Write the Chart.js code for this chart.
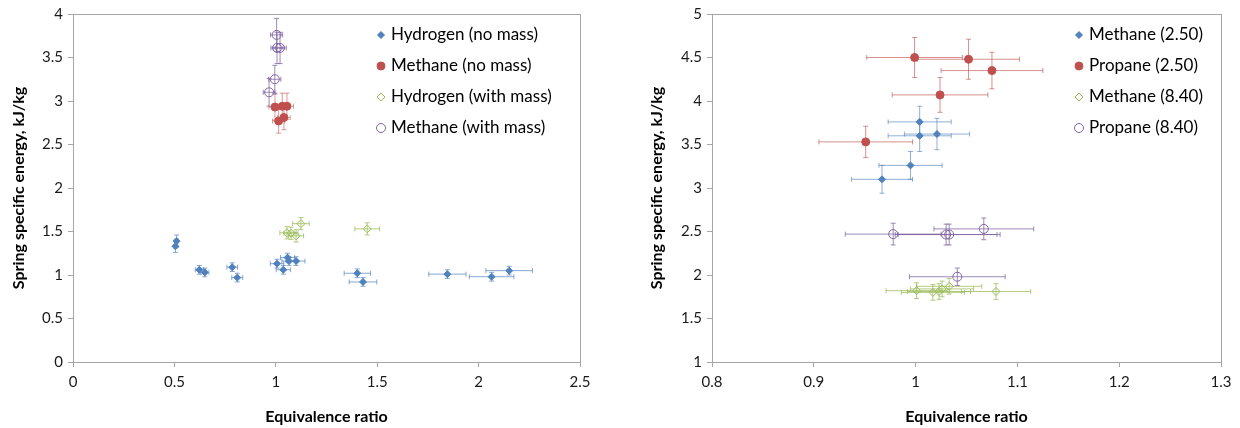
<!DOCTYPE html>
<html>
<head>
<meta charset="utf-8">
<script src="https://cdn.jsdelivr.net/npm/chart.js@4.4.0/dist/chart.umd.min.js"></script>
<style>
  html, body { margin: 0; padding: 0; background: #fff; }
  #wrap { position: relative; width: 1240px; height: 428px; }
  .box { position: absolute; top: 0; width: 620px; height: 428px; }
</style>
</head>
<body>
<div id="wrap">
  <div class="box" style="left:0"><canvas id="leftChart" width="620" height="428"></canvas></div>
  <div class="box" style="left:620px"><canvas id="rightChart" width="620" height="428"></canvas></div>
</div>
<script>
// ---- left chart data ----
const h2NoMassX = [0.505, 0.511, 0.623, 0.650, 0.785, 0.810, 1.006, 1.037, 1.058, 1.065, 1.100, 1.402, 1.430, 1.846, 2.064, 2.151];
const h2NoMassY = [1.33, 1.39, 1.06, 1.03, 1.09, 0.97, 1.13, 1.06, 1.20, 1.16, 1.16, 1.02, 0.92, 1.01, 0.98, 1.05];
const h2NoMassXErr = [0.008, 0.008, 0.02, 0.02, 0.026, 0.027, 0.033, 0.035, 0.035, 0.035, 0.044, 0.065, 0.068, 0.092, 0.11, 0.115];
const h2NoMassYErr = [0.07, 0.07, 0.05, 0.05, 0.05, 0.05, 0.05, 0.05, 0.05, 0.05, 0.05, 0.05, 0.05, 0.05, 0.05, 0.05];

const ch4NoMassX = [0.996, 1.032, 1.055, 1.014, 1.040];
const ch4NoMassY = [2.93, 2.94, 2.94, 2.77, 2.81];
const ch4NoMassXErr = [0.03, 0.031, 0.032, 0.03, 0.031];
const ch4NoMassYErr = [0.15, 0.15, 0.15, 0.14, 0.14];

const h2MassX = [1.055, 1.075, 1.100, 1.124, 1.451];
const h2MassY = [1.485, 1.48, 1.45, 1.59, 1.53];
const h2MassXErr = [0.035, 0.035, 0.037, 0.041, 0.061];
const h2MassYErr = [0.07, 0.07, 0.07, 0.07, 0.07];

const ch4MassX = [1.004, 1.006, 1.021, 0.995, 0.967];
const ch4MassY = [3.76, 3.61, 3.61, 3.25, 3.10];
const ch4MassXErr = [0.03, 0.03, 0.031, 0.03, 0.029];
const ch4MassYErr = [0.19, 0.18, 0.18, 0.16, 0.16];

// ---- right chart data ----
const ch4LowX = [1.004, 1.004, 1.021, 0.995, 0.967];
const ch4LowY = [3.76, 3.60, 3.62, 3.26, 3.10];
const ch4LowXErr = [0.031, 0.031, 0.032, 0.031, 0.030];
const ch4LowYErr = [0.18, 0.18, 0.18, 0.16, 0.16];

const c3LowX = [0.999, 1.052, 1.075, 1.024, 0.951];
const c3LowY = [4.50, 4.48, 4.35, 4.07, 3.53];
const c3LowXErr = [0.047, 0.05, 0.05, 0.047, 0.046];
const c3LowYErr = [0.23, 0.23, 0.21, 0.20, 0.18];

const ch4HighX = [1.001, 1.017, 1.023, 1.026, 1.033, 1.079];
const ch4HighY = [1.82, 1.80, 1.81, 1.84, 1.87, 1.81];
const ch4HighXErr = [0.03, 0.031, 0.031, 0.031, 0.032, 0.034];
const ch4HighYErr = [0.09, 0.09, 0.09, 0.09, 0.09, 0.09];

const c3HighX = [0.978, 1.030, 1.033, 1.067, 1.041];
const c3HighY = [2.47, 2.465, 2.465, 2.53, 1.98];
const c3HighXErr = [0.047, 0.05, 0.05, 0.049, 0.047];
const c3HighYErr = [0.125, 0.12, 0.12, 0.125, 0.10];

const BLUE = '#4F81BD', RED = '#C0504D', GREEN = '#9BBB59', PURPLE = '#8064A2';
const FONT = 'Lato, "Open Sans", sans-serif';

function pts(xs, ys) {
  return xs.map((x, i) => ({ x: x, y: ys[i] }));
}

function series(label, xs, ys, xErr, yErr, color, style, radius, hollow, errAlpha) {
  return {
    label: label,
    data: pts(xs, ys),
    xErr: xErr,
    yErr: yErr,
    errColor: color + errAlpha,
    pointStyle: style,
    pointRadius: radius,
    pointHoverRadius: radius,
    pointBorderWidth: 1,
    borderColor: color,
    backgroundColor: hollow ? 'rgba(255,255,255,0)' : color,
    hollow: hollow,
    showLine: false
  };
}

// draws the x and y error bars under the markers
const errorBars = {
  id: 'errorBars',
  beforeDatasetsDraw(chart) {
    const { ctx, scales: { x, y } } = chart;
    chart.data.datasets.forEach(ds => {
      ctx.save();
      ctx.strokeStyle = ds.errColor;
      ctx.lineWidth = 1;
      ds.data.forEach((p, j) => {
        const px = x.getPixelForValue(p.x);
        const py = y.getPixelForValue(p.y);
        const x0 = x.getPixelForValue(p.x - ds.xErr[j]);
        const x1 = x.getPixelForValue(p.x + ds.xErr[j]);
        const y0 = y.getPixelForValue(p.y - ds.yErr[j]);
        const y1 = y.getPixelForValue(p.y + ds.yErr[j]);
        const c = 2.5;
        ctx.beginPath();
        ctx.moveTo(x0, py); ctx.lineTo(x1, py);
        ctx.moveTo(x0, py - c); ctx.lineTo(x0, py + c);
        ctx.moveTo(x1, py - c); ctx.lineTo(x1, py + c);
        ctx.moveTo(px, y0); ctx.lineTo(px, y1);
        ctx.moveTo(px - c, y0); ctx.lineTo(px + c, y0);
        ctx.moveTo(px - c, y1); ctx.lineTo(px + c, y1);
        ctx.stroke();
      });
      ctx.restore();
    });
  }
};

// plot area frame + legend inside the plot
const frameAndLegend = {
  id: 'frameAndLegend',
  afterDraw(chart, args, opts) {
    const { ctx, chartArea: a } = chart;
    ctx.save();
    ctx.strokeStyle = '#a6a6a6';
    ctx.lineWidth = 1;
    ctx.strokeRect(Math.round(a.left) + 0.5, Math.round(a.top) + 0.5,
      Math.round(a.right - a.left), Math.round(a.bottom - a.top));

    ctx.font = '17px ' + FONT;
    ctx.textBaseline = 'middle';
    ctx.fillStyle = '#000';
    chart.data.datasets.forEach((ds, i) => {
      const mx = opts.x;
      const my = a.top + 21 + i * 31;
      ctx.save();
      ctx.strokeStyle = ds.borderColor;
      ctx.fillStyle = ds.hollow ? '#fff' : ds.borderColor;
      ctx.lineWidth = 1;
      const r = ds.pointRadius;
      ctx.beginPath();
      if (ds.pointStyle === 'circle') {
        ctx.arc(mx, my, r, 0, Math.PI * 2);
      } else {
        ctx.moveTo(mx, my - r); ctx.lineTo(mx + r, my);
        ctx.lineTo(mx, my + r); ctx.lineTo(mx - r, my); ctx.closePath();
      }
      ctx.fill();
      ctx.stroke();
      ctx.restore();
      ctx.fillText(ds.label, mx + 10, my);
    });
    ctx.restore();
  }
};

function fmt(v) {
  return String(Number(v.toFixed(2)));
}

function makeConfig(datasets, xr, yr, yWidth, rightPad, yTitlePad, legendX) {
  return {
    type: 'scatter',
    data: { datasets: datasets },
    plugins: [errorBars, frameAndLegend],
    options: {
      responsive: false,
      animation: false,
      layout: { padding: { top: 13, right: rightPad, bottom: 0, left: 0 } },
      plugins: {
        legend: { display: false },
        tooltip: { enabled: false },
        frameAndLegend: { x: legendX }
      },
      scales: {
        x: {
          type: 'linear',
          min: xr[0], max: xr[1],
          afterFit(s) { s.height = 66; },
          ticks: { stepSize: xr[2], color: '#1a1a1a', font: { family: FONT, size: 15 }, padding: 6, callback: fmt },
          grid: { drawOnChartArea: false, drawTicks: true, tickLength: 5, color: '#a6a6a6' },
          border: { color: '#a6a6a6' },
          title: { display: true, text: 'Equivalence ratio', color: '#000',
            font: { family: FONT, size: 16, weight: 'bold' }, padding: { top: 4, bottom: 2 } }
        },
        y: {
          type: 'linear',
          min: yr[0], max: yr[1],
          afterFit(s) { s.width = yWidth; },
          ticks: { stepSize: yr[2], color: '#1a1a1a', font: { family: FONT, size: 15 }, padding: 5, callback: fmt },
          grid: { drawOnChartArea: false, drawTicks: true, tickLength: 5, color: '#a6a6a6' },
          border: { color: '#a6a6a6' },
          title: { display: true, text: 'Spring specific energy, kJ/kg', color: '#000',
            font: { family: FONT, size: 16, weight: 'bold' }, padding: { top: yTitlePad, bottom: 0 } }
        }
      }
    }
  };
}

const leftSets = [
  series('Hydrogen (no mass)', h2NoMassX, h2NoMassY, h2NoMassXErr, h2NoMassYErr, BLUE, 'rectRot', 3.5, false, 'B0'),
  series('Methane (no mass)', ch4NoMassX, ch4NoMassY, ch4NoMassXErr, ch4NoMassYErr, RED, 'circle', 4, false, '90'),
  series('Hydrogen (with mass)', h2MassX, h2MassY, h2MassXErr, h2MassYErr, GREEN, 'rectRot', 4, true, 'C0'),
  series('Methane (with mass)', ch4MassX, ch4MassY, ch4MassXErr, ch4MassYErr, PURPLE, 'circle', 4.5, true, 'C0')
];

const rightSets = [
  series('Methane (2.50)', ch4LowX, ch4LowY, ch4LowXErr, ch4LowYErr, BLUE, 'rectRot', 3.5, false, 'A0'),
  series('Propane (2.50)', c3LowX, c3LowY, c3LowXErr, c3LowYErr, RED, 'circle', 4, false, 'A0'),
  series('Methane (8.40)', ch4HighX, ch4HighY, ch4HighXErr, ch4HighYErr, GREEN, 'rectRot', 4, true, 'C0'),
  series('Propane (8.40)', c3HighX, c3HighY, c3HighXErr, c3HighYErr, PURPLE, 'circle', 4.5, true, 'C0')
];

const leftChart = new Chart(document.getElementById('leftChart'),
  makeConfig(leftSets, [0, 2.5, 0.5], [0, 4, 0.5], 73, 40, 9, 381));
const rightChart = new Chart(document.getElementById('rightChart'),
  makeConfig(rightSets, [0.8, 1.3, 0.1], [1, 5, 0.5], 92, 19, 27, 459));
</script>
</body>
</html>
